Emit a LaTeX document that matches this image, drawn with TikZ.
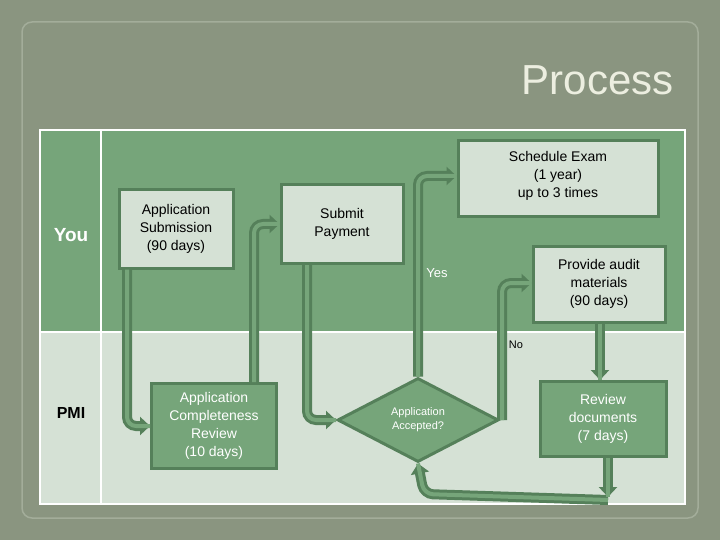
\documentclass[tikz,border=0pt]{standalone}
\usepackage{fontspec}
\setmainfont{Liberation Sans}
\usetikzlibrary{arrows.meta,shapes.geometric}
\definecolor{slide}{HTML}{8A9580}
\definecolor{frame}{HTML}{A3AD9A}
\definecolor{lanetop}{HTML}{76A57A}
\definecolor{lanebot}{HTML}{D5E1D5}
\definecolor{edge}{HTML}{55805A}
\definecolor{title}{HTML}{ECEEE0}
\tikzset{
  lbox/.style={draw=edge,line width=3pt,fill=lanebot,align=center,font=\fontsize{14}{18}\selectfont,inner sep=0pt},
  dbox/.style={lbox,fill=lanetop,text=white},
  flow/.style={draw=edge,line width=10pt,rounded corners=9pt,-{Triangle[length=10pt,width=18pt]}},
  flowin/.style={draw=lanetop,line width=4pt,rounded corners=9pt},
}
\begin{document}
\begin{tikzpicture}[x=1pt,y=-1pt]
\fill[slide] (0,0) rectangle (720,540);
\draw[frame,line width=1.5pt,rounded corners=10pt] (22,22) rectangle (698,518);
\node (title) [text=title,font=\fontsize{42}{42}\selectfont,anchor=east] at (677,80) {Process};
% lanes
\fill[lanetop] (40,130) rectangle (685,332);
\fill[lanebot] (40,332) rectangle (685,504);
\draw[white,line width=2pt] (40,130) rectangle (685,504);
\draw[white,line width=2pt] (40,332) -- (685,332);
\draw[white,line width=2pt] (101,130) -- (101,504);
\node (you) [text=white,font=\bfseries\fontsize{19}{19}\selectfont] at (71,235) {You};
\node (pmi) [font=\bfseries\fontsize{16}{16}\selectfont] at (71,413) {PMI};
% boxes
\node (sub) [lbox,minimum width=114pt,minimum height=78pt] at (176,229) {Application\\Submission\\(90 days)};
\node (pay) [lbox,minimum width=122pt,minimum height=79pt] at (342,224) {Submit\\Payment};
\node (exam) [lbox,minimum width=200pt,minimum height=76pt,anchor=north] at (558,139) {\\[-14pt]Schedule Exam\\(1 year)\\up to 3 times};
\node (aud) [lbox,minimum width=132pt,minimum height=76pt] at (599,284) {Provide audit\\materials\\(90 days)};
\node (comp) [dbox,minimum width=125pt,minimum height=85pt] at (214,426) {Application\\Completeness\\Review\\(10 days)};
\node (acc) [diamond,draw=edge,line width=3pt,fill=lanetop,text=white,inner sep=0pt,minimum width=161pt,minimum height=84pt,aspect=1.9,font=\fontsize{11}{14}\selectfont,align=center] at (418,420) {Application\\Accepted?};
\node (rev) [dbox,minimum width=126pt,minimum height=75pt] at (603,419) {Review\\documents\\(7 days)};
\node (yes) [text=white,font=\fontsize{13}{15}\selectfont] at (437,273) {Yes};
\node (no) [font=\fontsize{11}{13}\selectfont] at (516,345) {No};
\coordinate (c1) at (127,420);
\coordinate (c2) at (254,222);
\coordinate (c3) at (307,420);
\coordinate (c4) at (420,176);
\coordinate (c5) at (502,283);
\coordinate (c6) at (608,497);
\coordinate (c8) at (600,322);
\coordinate (c7) at (424,494);
% connectors
\foreach \s/\p in {flow/,flowin/}{
\draw[\s] (sub.south-|c1) |- (comp.west);
\draw[\s] (comp.north-|c2) |- (pay.west);
\draw[\s] (pay.south-|c3) |- (acc.west);
\draw[\s] (acc.north) |- (exam.west|-c4);
\draw[\s] (acc.east-|c5) |- (aud.west|-c5);
\draw[\s] (aud.south-|c8) -- (rev.north-|c8);
\draw[\s] (c6|-rev.south) -- (c6);
\draw[\s,rounded corners=9pt] (c6) ++(0,-3pt) -- (c7) -- (acc.south);
}
\end{tikzpicture}
\end{document}
